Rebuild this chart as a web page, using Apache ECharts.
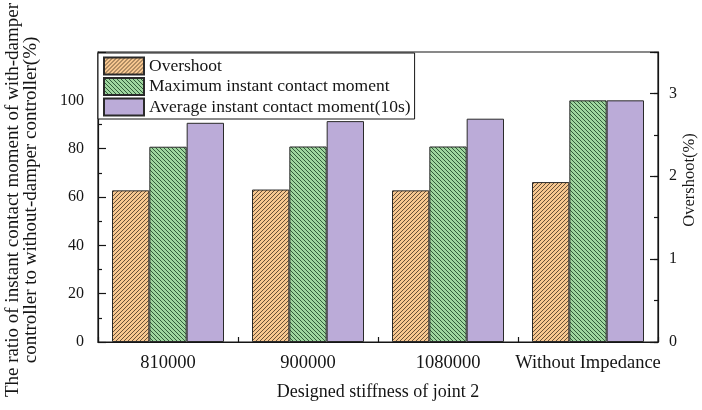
<!DOCTYPE html>
<html>
<head>
<meta charset="utf-8">
<script src="https://cdn.jsdelivr.net/npm/echarts@6/dist/echarts.min.js"></script>
<style>
  html, body { margin: 0; padding: 0; background: #fff; }
  #chart { width: 702px; height: 410px; }
</style>
</head>
<body>
<div id="chart"></div>
<script>
// Joint-2 stiffness settings compared with the controller without impedance
const categories = ['810000', '900000', '1080000', 'Without Impedance'];
// Overshoot (%), right axis
const overshoot = [1.83, 1.84, 1.83, 1.93];
// Ratio of with-damper to without-damper contact moment (%), left axis
const maxMoment = [80.8, 80.9, 80.9, 100];
const avgMoment = [90.7, 91.4, 92.4, 100];
// Axis ranges and tick steps
const ratioAxis = [0, 120, 20];
const overshootAxis = [0, 3.5, 1];

const serif = '"Liberation Serif", "DejaVu Serif", serif';
const ink = '#151515';

// Diagonal hatch tile: dir 1 -> "/", dir -1 -> "\"
function hatch(base, line, dir) {
  const c = document.createElement('canvas');
  c.width = 8; c.height = 8;
  const g = c.getContext('2d');
  g.fillStyle = base;
  g.fillRect(0, 0, 8, 8);
  g.fillStyle = line;
  for (let y = 0; y < 8; y++) {
    for (let x = 0; x < 8; x++) {
      const k = dir > 0 ? (x + y) % 4 : (x - y + 8) % 4;
      if (k === 0) g.fillRect(x, y, 1, 1);
    }
  }
  return c;
}

const orangeFill = { image: hatch('#f7c790', 'rgba(80,60,40,0.85)', 1), repeat: 'repeat' };
const greenFill = { image: hatch('#9fd69f', 'rgba(30,70,40,0.85)', -1), repeat: 'repeat' };
const purpleFill = '#bbabd8';

const chart = echarts.init(document.getElementById('chart'), null, { renderer: 'canvas' });

const yLabel = { fontFamily: serif, fontSize: 16, color: ink };

chart.setOption({
  animation: false,
  backgroundColor: '#fff',
  grid: {
    left: 98, right: 44, top: 52, bottom: 68,
    show: true, borderColor: ink, borderWidth: 1.2, backgroundColor: 'transparent'
  },
  legend: {
    orient: 'vertical',
    left: 98, top: 53,
    padding: [3, 4, 2, 5],
    itemGap: 0.5,
    itemWidth: 40, itemHeight: 17,
    icon: 'rect',
    backgroundColor: '#fff',
    borderColor: ink, borderWidth: 1,
    borderRadius: 0,
    textStyle: { fontFamily: serif, fontSize: 17.5, color: ink, lineHeight: 20 },
    data: ['Overshoot', 'Maximum instant contact moment', 'Average instant contact moment(10s)']
  },
  xAxis: [
    {
      type: 'category', data: categories, position: 'bottom',
      axisLine: { show: true, lineStyle: { color: ink, width: 1.2 } },
      axisTick: { show: true, inside: true, length: 5, alignWithLabel: false, lineStyle: { color: ink, width: 1.2 } },
      axisLabel: { interval: 0, margin: 12, fontFamily: serif, fontSize: 18.5, color: ink },
      name: 'Designed stiffness of joint 2',
      nameLocation: 'middle', nameGap: 41,
      nameTextStyle: { fontFamily: serif, fontSize: 18, color: ink },
      splitLine: { show: false }
    },
    {
      type: 'category', data: categories, position: 'bottom',
      axisLine: { show: false },
      axisTick: { show: true, inside: true, length: 5, alignWithLabel: true, lineStyle: { color: ink, width: 1.2 } },
      axisLabel: { show: false },
      splitLine: { show: false }
    }
  ],
  yAxis: [
    {
      type: 'value', position: 'left',
      min: ratioAxis[0], max: ratioAxis[1], interval: ratioAxis[2],
      axisLine: { show: true, lineStyle: { color: ink, width: 1.2 } },
      axisTick: { show: true, inside: true, length: 8, lineStyle: { color: ink, width: 1.2 } },
      minorTick: { show: true, splitNumber: 2, length: 4, lineStyle: { color: ink, width: 1.2 } },
      axisLabel: Object.assign({
        margin: 14,
        formatter: v => (v >= ratioAxis[1] ? '' : String(v))
      }, yLabel),
      splitLine: { show: false }
    },
    {
      type: 'value', position: 'right',
      min: overshootAxis[0], max: overshootAxis[1], interval: overshootAxis[2],
      axisLine: { show: true, lineStyle: { color: ink, width: 1.2 } },
      axisTick: { show: true, inside: true, length: 8, lineStyle: { color: ink, width: 1.2 } },
      axisLabel: Object.assign({
        margin: 11,
        formatter: v => (v > 3.01 ? '' : String(v))
      }, yLabel),
      splitLine: { show: false }
    },
    {
      // half-step ticks on the overshoot axis
      type: 'value', position: 'right',
      min: overshootAxis[0], max: overshootAxis[1], interval: overshootAxis[2] / 2,
      axisLine: { show: false },
      axisTick: { show: true, inside: true, length: 4, lineStyle: { color: ink, width: 1.2 } },
      axisLabel: { show: false },
      splitLine: { show: false }
    }
  ],
  graphic: [
    {
      type: 'text',
      x: 4, y: 200,
      rotation: Math.PI / 2,
      style: {
        text: 'The ratio of instant contact moment of with-damper\ncontroller to without-damper controller(%)',
        fontFamily: serif, fontSize: 19, fill: ink, align: 'center', verticalAlign: 'top', lineHeight: 18
      }
    },
    {
      type: 'text',
      x: 681, y: 180,
      rotation: Math.PI / 2,
      style: {
        text: 'Overshoot(%)', fontFamily: serif, fontSize: 16.5, fill: ink,
        align: 'center', verticalAlign: 'top'
      }
    }
  ],
  series: [
    {
      name: 'Overshoot', type: 'bar', xAxisIndex: 0, yAxisIndex: 1,
      data: overshoot,
      itemStyle: { color: orangeFill, borderColor: '#2a2a2a', borderWidth: 1 },
      barGap: '0%', barCategoryGap: '20%'
    },
    {
      name: 'Maximum instant contact moment', type: 'bar', xAxisIndex: 0, yAxisIndex: 0,
      data: maxMoment,
      itemStyle: { color: greenFill, borderColor: '#2a2a2a', borderWidth: 1 },
      barGap: '0%', barCategoryGap: '20%'
    },
    {
      name: 'Average instant contact moment(10s)', type: 'bar', xAxisIndex: 0, yAxisIndex: 0,
      data: avgMoment,
      itemStyle: { color: purpleFill, borderColor: '#2a2a2a', borderWidth: 1 },
      barGap: '0%', barCategoryGap: '20%'
    }
  ]
});
</script>
</body>
</html>
